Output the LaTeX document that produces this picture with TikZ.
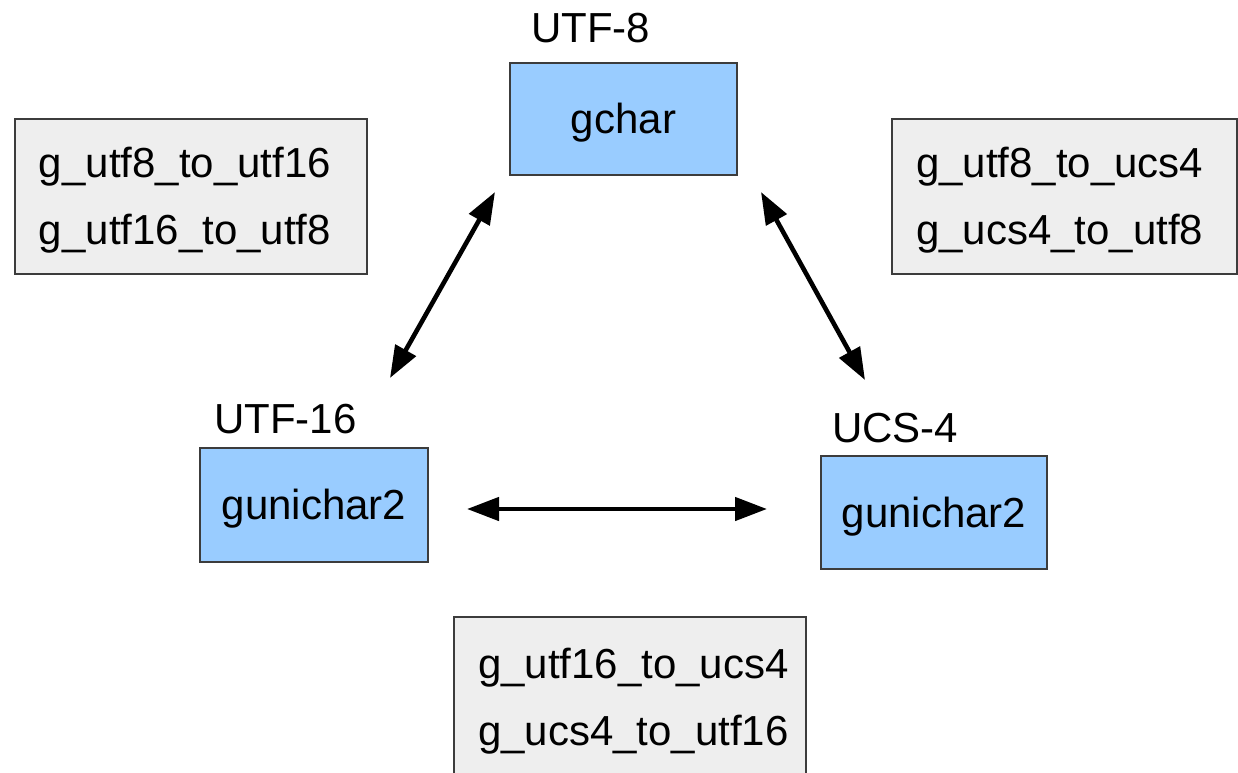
\documentclass[tikz,border=0pt]{standalone}
\usepackage{fontspec}
\setmainfont{Liberation Sans}
\usetikzlibrary{arrows.meta}
\definecolor{boxblue}{HTML}{99CCFF}
\definecolor{boxgrey}{HTML}{EEEEEE}
\definecolor{edge}{HTML}{3C3C3C}
\newcommand\lnstrut{\rule[-.212em]{0pt}{1.117em}}
\tikzset{
  enc/.style={draw=edge,fill=boxblue,line width=.6pt,inner sep=0pt},
  fns/.style={draw=edge,fill=boxgrey,line width=.6pt,inner xsep=12pt,inner ysep=0pt,align=left},
  tag/.style={inner sep=0pt,anchor=base west},
}
\begin{document}
\begin{tikzpicture}[x=.5pt,y=-.5pt,>={Triangle[length=16pt,width=11.5pt]},line width=2.3pt,font=\fontsize{21}{33.5}\selectfont]
  \useasboundingbox (0,0) rectangle (1238,772);
  % encodings
  \node[enc,minimum width=113.5pt,minimum height=56pt] (gchar) at (623.5,119) {\lnstrut gchar};
  \node[enc,minimum width=114pt,minimum height=57pt] (utf16) at (314,505) {\lnstrut gunichar2};
  \node[enc,minimum width=113pt,minimum height=56.5pt] (ucs4) at (934,512.5) {\lnstrut gunichar2};
  \node[tag] (lbl8) at (529,42) {UTF-8};
  \node[tag] (lbl16) at (212,433) {UTF-16};
  \node[tag] (lbl4) at (830,442) {UCS-4};
  % conversion functions
  \node[fns,text width=152pt,minimum height=77.5pt] (fns816) at (191,196.5)
    {\lnstrut g\_utf8\_to\_utf16\\ \lnstrut g\_utf16\_to\_utf8};
  \node[fns,text width=148.5pt,minimum height=77.5pt] (fns84) at (1064.5,196.5)
    {\lnstrut g\_utf8\_to\_ucs4\\ \lnstrut g\_ucs4\_to\_utf8};
  \node[fns,text width=152pt,minimum height=80pt] (fns164) at (630,697)
    {\lnstrut g\_utf16\_to\_ucs4\\ \lnstrut g\_ucs4\_to\_utf16};
  % arrows
  \coordinate (l1) at (390,378);
  \coordinate (l2) at (495,192);
  \coordinate (r1) at (761,192);
  \coordinate (r2) at (865,380);
  \coordinate (h1) at (467,509);
  \coordinate (h2) at (767,509);
  \draw[<->] (l1)--(l2);
  \draw[<->] (r1)--(r2);
  \draw[<->] (h1)--(h2);
\end{tikzpicture}
\end{document}
